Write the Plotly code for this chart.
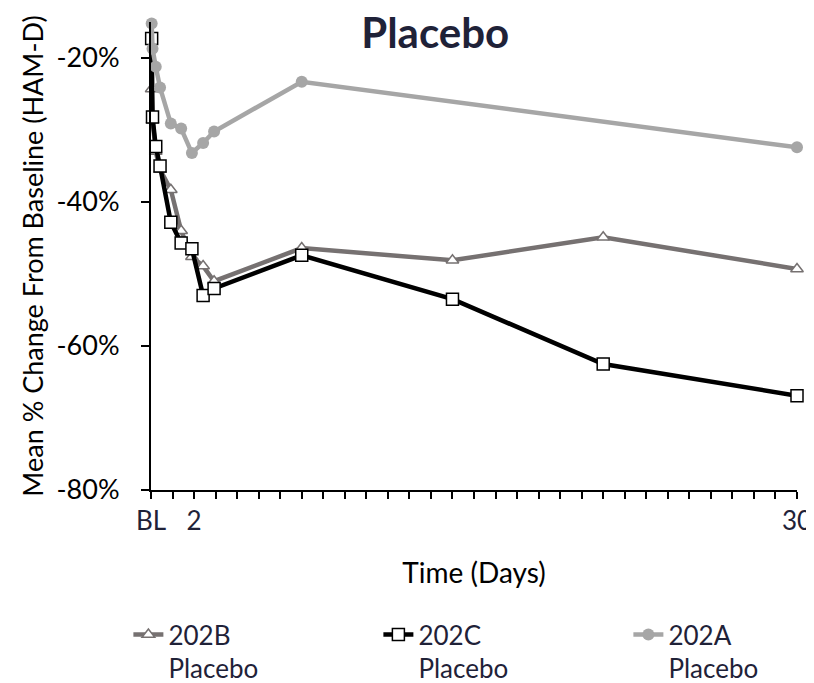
import plotly.graph_objects as go

# Time points (days)
days = [0.03, 0.07, 0.22, 0.42, 0.92, 1.4, 1.9, 2.42, 2.93, 7, 14, 21, 30]

# Mean % change from baseline (HAM-D)
placebo_202B = [-24.3, -28.6, -33.0, -35.5, -38.3, -44.0, -47.6, -48.9, -51.0, -46.4, -48.1, -44.9, -49.3]
placebo_202C = [-17.3, -28.2, -32.3, -35.0, -42.8, -45.7, -46.5, -53.0, -52.0, -47.4, -53.5, -62.5, -66.9]
placebo_202A = [-15.2, -18.7, -21.2, -24.1, -29.1, -29.8, -33.2, -31.8, -30.2, -23.3, None, None, -32.4]

series_names = ["202B<br>Placebo", "202C<br>Placebo", "202A<br>Placebo"]

x_tickvals = list(range(0, 31))
x_ticktext = ["BL", "", "2"] + [""] * 27 + ["30"]
y_tickvals = [-80, -60, -40, -20]
y_ticktext = ["-80%", "-60%", "-40%", "-20%"]

FONT = "Lato"
NAVY = "#1f2238"

fig = go.Figure()
fig.add_trace(go.Scatter(
    x=days, y=placebo_202B, name=series_names[0], mode="lines+markers",
    line=dict(color="#767171", width=4.5),
    marker=dict(symbol="triangle-up", size=11, color="white",
                line=dict(color="#767171", width=1.5)),
    cliponaxis=False,
))
fig.add_trace(go.Scatter(
    x=days, y=placebo_202C, name=series_names[1], mode="lines+markers",
    line=dict(color="black", width=4.5),
    marker=dict(symbol="square", size=12, color="white",
                line=dict(color="black", width=1.5)),
    cliponaxis=False,
))
xa = [d for d, v in zip(days, placebo_202A) if v is not None]
ya = [v for v in placebo_202A if v is not None]
fig.add_trace(go.Scatter(
    x=xa, y=ya, name=series_names[2], mode="lines+markers",
    line=dict(color="#a6a6a6", width=4.5),
    marker=dict(symbol="circle", size=12, color="#a6a6a6"),
    cliponaxis=False,
))

fig.update_layout(
    width=806, height=675,
    margin=dict(l=143, r=17, t=14, b=193, autoexpand=False),
    paper_bgcolor="white", plot_bgcolor="white",
    font=dict(family=FONT, size=26, color="black"),
    title=dict(text="<b>Placebo</b>", x=0.530, xanchor="center", y=0.963, yanchor="middle",
               font=dict(family=FONT, size=42, color=NAVY)),
    showlegend=True,
    legend=dict(orientation="h", x=-0.035, xanchor="left", y=-0.2586, yanchor="top",
                entrywidth=205, entrywidthmode="pixels", valign="top",
                font=dict(family=FONT, size=26, color=NAVY),
                traceorder="normal"),
    xaxis=dict(
        range=[0, 30], tickmode="array", tickvals=x_tickvals, ticktext=x_ticktext,
        ticks="outside", ticklen=7, tickwidth=1.5, tickcolor="black",
        showline=True, linecolor="black", linewidth=2,
        showgrid=False, zeroline=False, automargin=False,
        title=dict(text="Time (Days)", standoff=28, font=dict(size=28, color="black")),
        tickfont=dict(size=26, color=NAVY),
    ),
    yaxis=dict(
        range=[-80, -15], tickmode="array", tickvals=y_tickvals, ticktext=y_ticktext,
        ticks="outside", ticklen=8, tickwidth=1.5, tickcolor="black",
        ticklabelstandoff=16,
        showline=True, linecolor="black", linewidth=2,
        showgrid=False, zeroline=False, automargin=False,
        title=dict(text="Mean % Change From Baseline (HAM-D)", standoff=5, font=dict(size=27, color="black")),
        tickfont=dict(size=27, color="black"),
    ),
)

fig.write_html("out.html")
